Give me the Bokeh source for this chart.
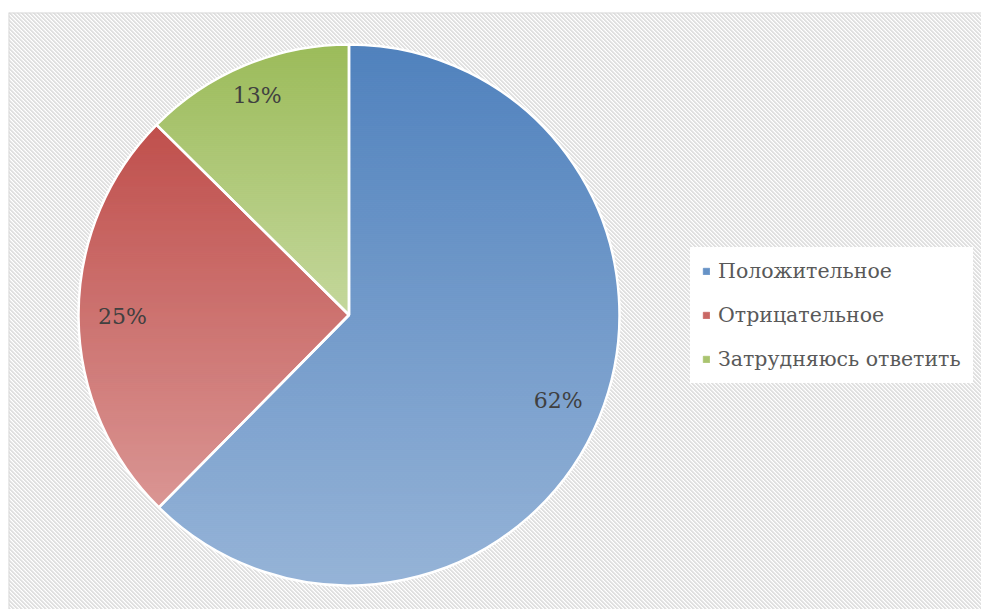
import math
import zlib
import struct
import base64
from bokeh.plotting import figure
from bokeh.models import (Range1d, BoxAnnotation, Legend, LegendItem, ColumnDataSource,
                          ImageURLTexture, Span)
from bokeh.core.properties import value
from bokeh.embed import file_html
from bokeh.resources import INLINE

# ---- data ----
categories = ["Положительное", "Отрицательное", "Затрудняюсь ответить"]
shares = [62.4, 25.0, 12.6]
label_texts = ["62%", "25%", "13%"]
top_colors = ["#4F81BD", "#C0504D", "#9BBB59"]
bottom_colors = ["#95B3D7", "#DA9694", "#C4D79B"]

# ---- layout (frame pixel units) ----
W, H = 981, 609
BL, BT = 8, 12
FW, FH = W - BL, H - BT
CX, CY, R = 340.5, 294.5, 270.5
FONT = "DejaVu Serif"

p = figure(width=W, height=H, output_backend="svg", toolbar_location=None,
           x_range=Range1d(0, FW), y_range=Range1d(0, FH),
           min_border_left=BL, min_border_right=0, min_border_top=BT, min_border_bottom=0)
p.xaxis.visible = False
p.yaxis.visible = False
p.xgrid.visible = False
p.ygrid.visible = False
p.outline_line_color = None
p.background_fill_color = "white"
p.border_fill_color = "white"


def make_png(w, h, pix):
    raw = b"".join(b"\x00" + b"".join(bytes(pix[y][x]) for x in range(w)) for y in range(h))

    def chunk(t, d):
        c = struct.pack(">I", len(d)) + t + d
        return c + struct.pack(">I", zlib.crc32(t + d) & 0xffffffff)
    return (b"\x89PNG\r\n\x1a\n" + chunk(b"IHDR", struct.pack(">IIBBBBB", w, h, 8, 2, 0, 0, 0))
            + chunk(b"IDAT", zlib.compress(raw)) + chunk(b"IEND", b""))


G = (224, 224, 224)
Wt = (255, 255, 255)
L = (240, 240, 240)
tile = [[G if (x - y) % 4 in (0, 1) else (L if (x - y) % 4 == 2 else Wt) for x in range(4)]
        for y in range(4)]
url = "data:image/png;base64," + base64.b64encode(make_png(4, 4, tile)).decode()

hatch = BoxAnnotation(left=0, right=FW + 20, bottom=-20, top=FH,
                      fill_color="white", fill_alpha=1.0, hatch_pattern="stripes",
                      hatch_extra={"stripes": ImageURLTexture(url=url)},
                      line_alpha=0, level="underlay")
p.add_layout(hatch)
p.add_layout(Span(location=0, dimension="height", line_color="#d9d9d9", line_width=2))
p.add_layout(Span(location=FH, dimension="width", line_color="#d9d9d9", line_width=2))


def hex2rgb(h):
    h = h.lstrip("#")
    return tuple(int(h[i:i + 2], 16) for i in (0, 2, 4))


def mix(c1, c2, t):
    a, b = hex2rgb(c1), hex2rgb(c2)
    return "#%02x%02x%02x" % tuple(int(round(a[i] + (b[i] - a[i]) * t)) for i in range(3))


def clip(poly, y0, keep_above):
    out = []
    n = len(poly)
    for i in range(n):
        cur = poly[i]
        prev = poly[i - 1]
        cin = cur[1] >= y0 if keep_above else cur[1] <= y0
        pin = prev[1] >= y0 if keep_above else prev[1] <= y0
        if cin:
            if not pin:
                t = (y0 - prev[1]) / (cur[1] - prev[1])
                out.append((prev[0] + t * (cur[0] - prev[0]), y0))
            out.append(cur)
        elif pin:
            t = (y0 - prev[1]) / (cur[1] - prev[1])
            out.append((prev[0] + t * (cur[0] - prev[0]), y0))
    return out


total = sum(shares)
angle = math.pi / 2
slices = []
for k, s in enumerate(shares):
    span = s / total * 2 * math.pi
    a_hi = angle
    a_lo = angle - span
    slices.append((a_lo, a_hi))
    angle = a_lo

renderers = []
for k, (a_lo, a_hi) in enumerate(slices):
    npts = max(20, int((a_hi - a_lo) / (2 * math.pi) * 720))
    poly = [(CX, CY)] + [(CX + R * math.cos(a_lo + (a_hi - a_lo) * i / npts),
                          CY + R * math.sin(a_lo + (a_hi - a_lo) * i / npts))
                         for i in range(npts + 1)]
    ys_all = [pt[1] for pt in poly]
    ymin, ymax = min(ys_all), max(ys_all)
    step = 2.0
    xs, ys, cols = [], [], []
    y = ymax
    while y > ymin:
        y_lo = max(ymin, y - step)
        band = clip(clip(poly, y_lo, True), y, False)
        if len(band) >= 3:
            t = (ymax - (y + y_lo) / 2) / (ymax - ymin)
            xs.append([q[0] for q in band])
            ys.append([q[1] for q in band])
            cols.append(mix(top_colors[k], bottom_colors[k], t))
        y = y_lo
    src = ColumnDataSource(dict(xs=xs, ys=ys, c=cols))
    r = p.patches("xs", "ys", source=src, fill_color="c", line_color="c", line_width=0.8)
    renderers.append((r, len(xs) // 3))

# white separators / outline
p.wedge(x=[CX] * 3, y=[CY] * 3, radius=R,
        start_angle=[a for a, _ in slices], end_angle=[b for _, b in slices],
        fill_alpha=0, line_color="white", line_width=2.5)

# data labels (inside end)
lx, ly = [], []
for (a_lo, a_hi) in slices:
    m = (a_lo + a_hi) / 2
    ext = abs(math.cos(m)) * 29 + abs(math.sin(m)) * 7
    d = R - 15 - ext
    lx.append(CX + d * math.cos(m))
    ly.append(CY + d * math.sin(m))
p.text(x=lx, y=ly, text=label_texts, text_align="center", text_baseline="middle",
       text_font=value(FONT), text_font_size="22px", text_color="#404040")

items = [LegendItem(label=categories[k], renderers=[renderers[k][0]], index=renderers[k][1])
         for k in range(3)]
legend = Legend(items=items, location=(682, 226), orientation="vertical",
                glyph_width=8, glyph_height=8, label_standoff=8,
                label_text_font=FONT, label_text_font_size="20.5px",
                label_text_color="#595959", spacing=20, padding=12, margin=0,
                background_fill_color="white", background_fill_alpha=1.0,
                border_line_alpha=0)
p.add_layout(legend, "center")

open("out.html", "w").write(file_html(p, INLINE))
